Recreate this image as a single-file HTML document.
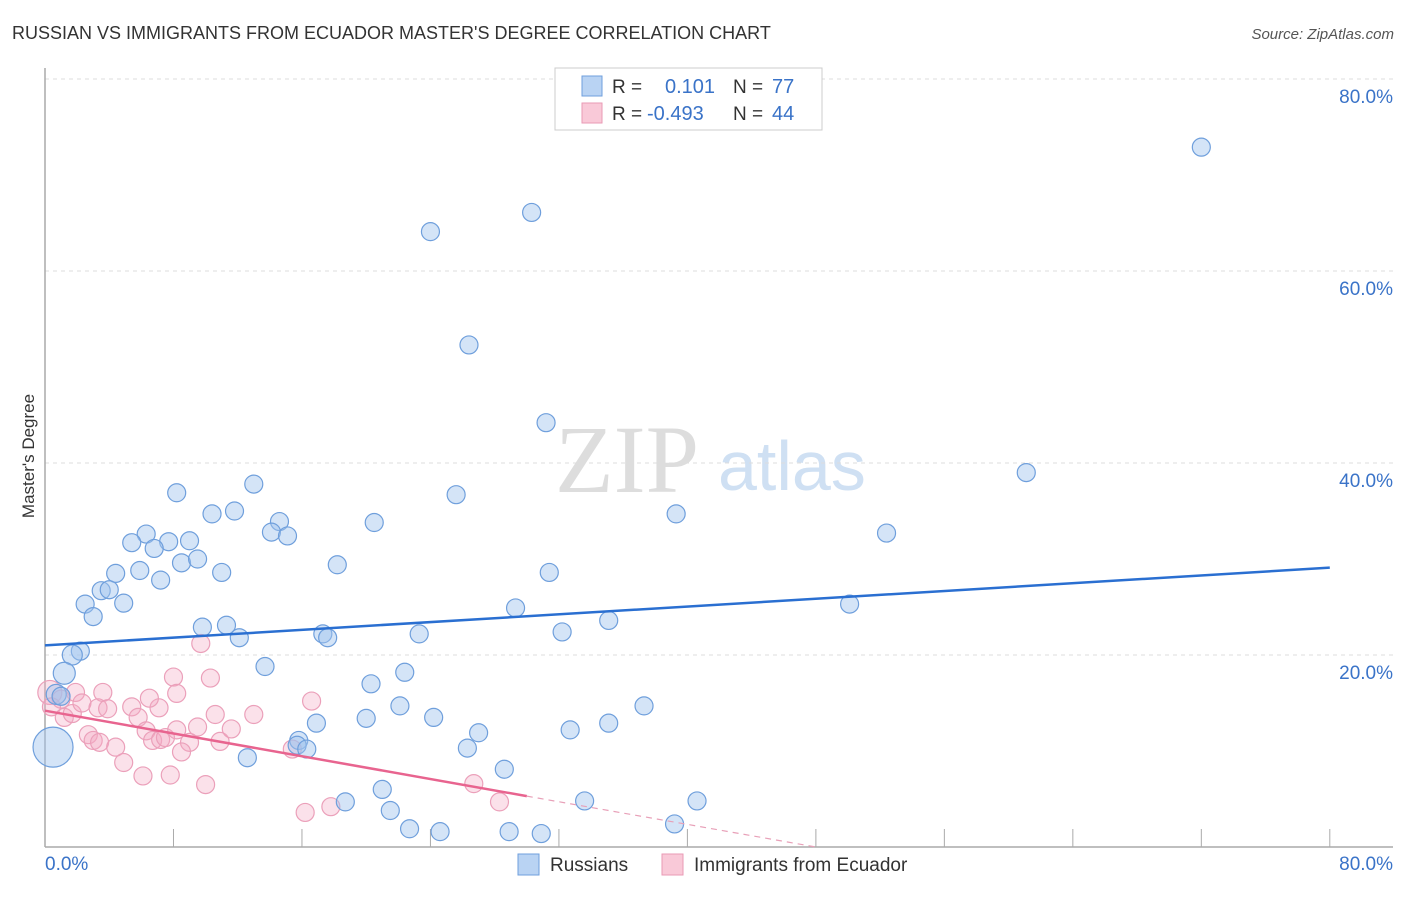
<!DOCTYPE html>
<html><head><meta charset="utf-8"><style>
body{margin:0;background:#fff;font-family:"Liberation Sans",sans-serif;}
#wrap{position:relative;width:1406px;height:892px;}
</style></head><body>
<div id="wrap">
<svg id="chart" width="1406" height="892" xmlns="http://www.w3.org/2000/svg">
<text x="12" y="39" font-size="18" fill="#333">RUSSIAN VS IMMIGRANTS FROM ECUADOR MASTER'S DEGREE CORRELATION CHART</text>
<text x="1394" y="39" font-size="15" fill="#555" text-anchor="end" font-style="italic">Source: ZipAtlas.com</text>
<text transform="translate(34,456) rotate(-90)" font-size="17" fill="#333" text-anchor="middle">Master's Degree</text>
<text x="555" y="492" font-size="96" fill="#ddd" font-family="Liberation Serif,serif">ZIP</text>
<text x="718" y="490" font-size="70" fill="#cfe0f3">atlas</text>
<g id="grid"></g><g id="marks"></g>
<g>
<rect x="555" y="68" width="267" height="62" fill="#fff" stroke="#ccc"/>
<rect x="582" y="76" width="20" height="20" fill="#b9d3f3" stroke="#6f9fdc"/>
<rect x="582" y="103" width="20" height="20" fill="#f9c9d8" stroke="#e99ab5"/>
<text x="612" y="93" font-size="19" fill="#333">R =</text><text x="665" y="93" font-size="20" fill="#3a73c8">0.101</text>
<text x="733" y="93" font-size="19" fill="#333">N =</text><text x="772" y="93" font-size="20" fill="#3a73c8">77</text>
<text x="612" y="120" font-size="19" fill="#333">R =</text><text x="647" y="120" font-size="20" fill="#3a73c8">-0.493</text>
<text x="733" y="120" font-size="19" fill="#333">N =</text><text x="772" y="120" font-size="20" fill="#3a73c8">44</text>
</g>
<g>
<rect x="518" y="854" width="21" height="21" fill="#b9d3f3" stroke="#6f9fdc"/>
<text x="550" y="871" font-size="19" fill="#333">Russians</text>
<rect x="662" y="854" width="21" height="21" fill="#f9c9d8" stroke="#e99ab5"/>
<text x="694" y="871" font-size="19" fill="#333">Immigrants from Ecuador</text>
</g>
</svg>
</div>
<script>
const yTicks=[20,40,60,80];
const xTickLabels=["0.0%","80.0%"];
const blueX=[72.0,30.3,24.0,26.4,31.2,61.1,25.6,8.2,13.0,10.4,11.8,20.5,39.3,14.6,6.3,14.1,15.1,52.4,5.4,7.7,9.0,6.8,8.5,9.5,11.0,4.4,5.9,18.2,31.4,7.2,3.5,4.0,2.5,4.9,50.1,3.0,29.3,35.1,9.8,11.3,12.1,17.3,17.6,23.3,32.2,2.2,1.7,1.2,13.7,22.4,20.3,0.7,1.0,22.1,37.3,20.0,24.2,16.9,35.1,32.7,27.0,15.8,15.7,16.3,26.3,0.5,12.6,28.6,18.7,21.0,21.5,33.6,40.6,22.7,24.6,28.9,30.9,39.2];
const blueY=[72.9,66.1,64.1,52.3,44.2,39.0,36.7,36.9,37.8,34.7,35.0,33.8,34.7,33.9,32.6,32.8,32.4,32.7,31.7,31.8,31.9,31.1,29.6,30.0,28.6,28.5,28.8,29.4,28.6,27.8,26.7,26.8,25.3,25.4,25.3,24.0,24.9,23.6,22.9,23.1,21.8,22.2,21.8,22.2,22.4,20.4,20.0,18.1,18.8,18.2,17.0,15.9,15.7,14.7,14.7,13.4,13.5,12.9,12.9,12.2,11.9,11.1,10.6,10.2,10.3,10.4,9.3,8.1,4.7,6.0,3.8,4.8,4.8,1.9,1.6,1.6,1.4,2.4];
const blueR=[9,9,9,9,9,9,9,9,9,9,9,9,9,9,9,9,9,9,9,9,9,9,9,9,9,9,9,9,9,9,9,9,9,9,9,9,9,9,9,9,9,9,9,9,9,9,10,11,9,9,9,10,9,9,9,9,9,9,9,9,9,9,9,9,9,20,9,9,9,9,9,9,9,9,9,9,9,9];
const pinkX=[0.3,1.9,1.0,3.6,0.4,1.2,1.7,2.3,3.3,3.9,5.4,5.8,7.1,6.5,8.0,8.2,9.7,10.3,2.7,3.0,3.4,4.4,4.9,6.3,6.7,7.2,7.8,6.1,7.5,9.0,8.5,9.5,10.6,10.9,11.6,13.0,10.0,16.2,17.8,16.6,15.4,26.7,28.3,8.2];
const pinkY=[16.1,16.1,15.4,16.1,14.6,13.5,13.9,15.0,14.5,14.4,14.6,13.5,14.5,15.5,17.7,16.0,21.2,17.6,11.7,11.1,10.9,10.4,8.8,12.1,11.1,11.2,7.5,7.4,11.4,10.9,9.9,12.5,13.8,11.0,12.3,13.8,6.5,3.6,4.2,15.2,10.2,6.6,4.7,12.2];
const pinkR=[12,9,9,9,9,9,9,9,9,9,9,9,9,9,9,9,9,9,9,9,9,9,9,9,9,9,9,9,9,9,9,9,9,9,9,9,9,9,9,9,9,9,9,9];
const blueTrend=[[0,21.0],[80,29.1]];
const pinkTrend=[[0,14.2],[30,5.3],[48,0.0]];
const sx=v=>45+v*16.06, sy=v=>847-v*9.6;
const NS="http://www.w3.org/2000/svg";
const grid=document.getElementById('grid'), marks=document.getElementById('marks');
function mk(tag,attrs,parent){const e=document.createElementNS(NS,tag);for(const k in attrs)e.setAttribute(k,attrs[k]);parent.appendChild(e);return e;}
yTicks.forEach(t=>{
 const l=mk('line',{x1:45,x2:1393,y1:sy(t),y2:sy(t),stroke:'#ddd','stroke-dasharray':'4,4'},grid);
 
 
 const tx=mk('text',{x:1393,y:sy(t)+24,'font-size':19,fill:'#3a73c8','text-anchor':'end'},grid);
 tx.textContent=t.toFixed(1)+'%';
 
 
});
const ax=mk('line',{x1:45,x2:45,y1:68,y2:847,stroke:'#aaa','stroke-width':1.5},grid);


const bx=mk('line',{x1:45,x2:1393,y1:847,y2:847,stroke:'#aaa','stroke-width':1.5},grid);


for(let i=0;i<=10;i++){const t=mk('line',{x1:sx(i*8),x2:sx(i*8),y1:829,y2:847,stroke:'#aaa'},grid);
 
 }
[[xTickLabels[0],45,'start'],[xTickLabels[1],1393,'end']].forEach(([s,x,a])=>{
 const t=mk('text',{x:x,y:870,'font-size':19,fill:'#3a73c8','text-anchor':a},grid);t.textContent=s;
 
 });
function pts(X,Y,R,fill,stroke,name){X.forEach((x,i)=>{
 const c=mk('circle',{cx:sx(x),cy:sy(Y[i]),r:R[i],fill:fill,stroke:stroke,'stroke-width':1.2},marks);
 
 });}
pts(pinkX,pinkY,pinkR,'rgba(244,170,195,0.35)','#eba0ba','ecuador-point');
pts(blueX,blueY,blueR,'rgba(160,195,238,0.45)','#6f9fdc','russian-point');
const bl=mk('line',{x1:sx(blueTrend[0][0]),y1:sy(blueTrend[0][1]),x2:sx(blueTrend[1][0]),y2:sy(blueTrend[1][1]),stroke:'#2a6fd1','stroke-width':2.5},marks);


const pl=mk('line',{x1:sx(pinkTrend[0][0]),y1:sy(pinkTrend[0][1]),x2:sx(pinkTrend[1][0]),y2:sy(pinkTrend[1][1]),stroke:'#e8648f','stroke-width':2.5},marks);


const pd=mk('line',{x1:sx(pinkTrend[1][0]),y1:sy(pinkTrend[1][1]),x2:sx(pinkTrend[2][0]),y2:sy(pinkTrend[2][1]),stroke:'#e8a0b8','stroke-width':1.2,'stroke-dasharray':'6,5'},marks);


</script>
</body></html>
